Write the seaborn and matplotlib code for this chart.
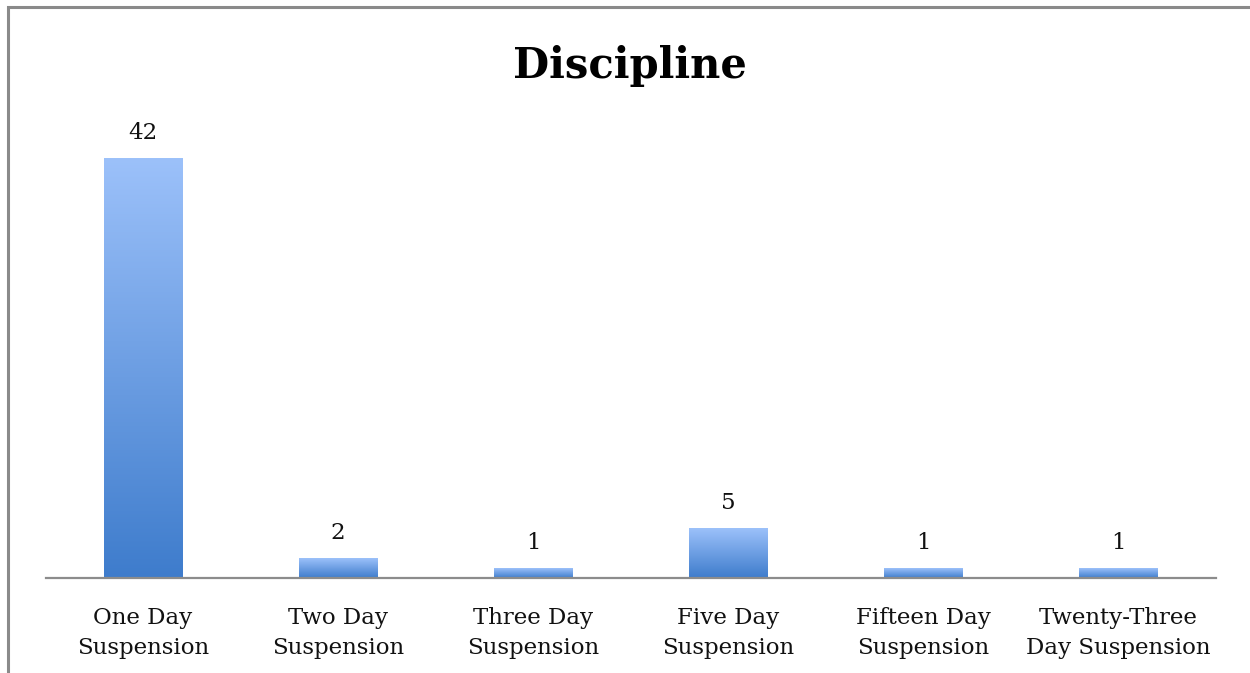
import numpy as np
import pandas as pd
import matplotlib
matplotlib.use("Agg")
import matplotlib.pyplot as plt
from matplotlib.colors import LinearSegmentedColormap
from matplotlib.patches import Rectangle
import seaborn as sns

categories = ["One Day\nSuspension", "Two Day\nSuspension", "Three Day\nSuspension",
              "Five Day\nSuspension", "Fifteen Day\nSuspension", "Twenty-Three\nDay Suspension"]
counts = [42, 2, 1, 5, 1, 1]

df = pd.DataFrame({"category": categories, "count": counts})

sns.set_style("white")
plt.rcParams["font.family"] = ["DejaVu Serif"]

fig = plt.figure(figsize=(12.5, 6.73), dpi=100)
ax = fig.add_axes([45.5 / 1250, 95 / 673, 1170 / 1250, 420 / 673])

sns.barplot(data=df, x="category", y="count", color="#6a9be6", width=0.405, ax=ax)
ax.set_ylim(0, 42)
ax.set_xlim(-0.5, len(categories) - 0.5)

# vertical gradient fill for each bar
cmap = LinearSegmentedColormap.from_list("bar", ["#3e7ccc", "#9cc1fa"])
grad = np.linspace(0, 1, 256).reshape(-1, 1)
for patch in ax.patches:
    x0, y0 = patch.get_x(), patch.get_y()
    w, h = patch.get_width(), patch.get_height()
    im = ax.imshow(grad, cmap=cmap, aspect="auto", origin="lower",
                   extent=[x0, x0 + w, y0, y0 + h], zorder=2)
    im.set_clip_path(patch)
    patch.set_facecolor("none")
    patch.set_edgecolor("none")

for i, v in enumerate(counts):
    ax.annotate(str(v), (i, v), xytext=(0, 10), textcoords="offset points",
                ha="center", va="bottom", fontsize=16.5, color="#111111",
                annotation_clip=False)

for s in ["top", "right", "left"]:
    ax.spines[s].set_visible(False)
ax.spines["bottom"].set_color("#8c8c8c")
ax.spines["bottom"].set_linewidth(1.6)
ax.set_yticks([])
ax.set_xlabel("")
ax.set_ylabel("")
ax.set_xticks(range(len(categories)))
ax.set_xticklabels(categories, linespacing=1.45, fontsize=16.5, color="#111111")
ax.tick_params(axis="x", length=0, pad=21)

fig.text(630 / 1250, 1 - 66 / 673, "Discipline", ha="center", va="center",
         fontsize=30, fontweight="bold", color="#000000")

# chart frame
fig.patches.append(Rectangle((8 / 1250, -0.1), 1.2, 1 - 7 / 673 + 0.1,
                             transform=fig.transFigure, fill=False,
                             edgecolor="#8a8a8a", linewidth=2.2))

fig.savefig("out.png", dpi=100)
